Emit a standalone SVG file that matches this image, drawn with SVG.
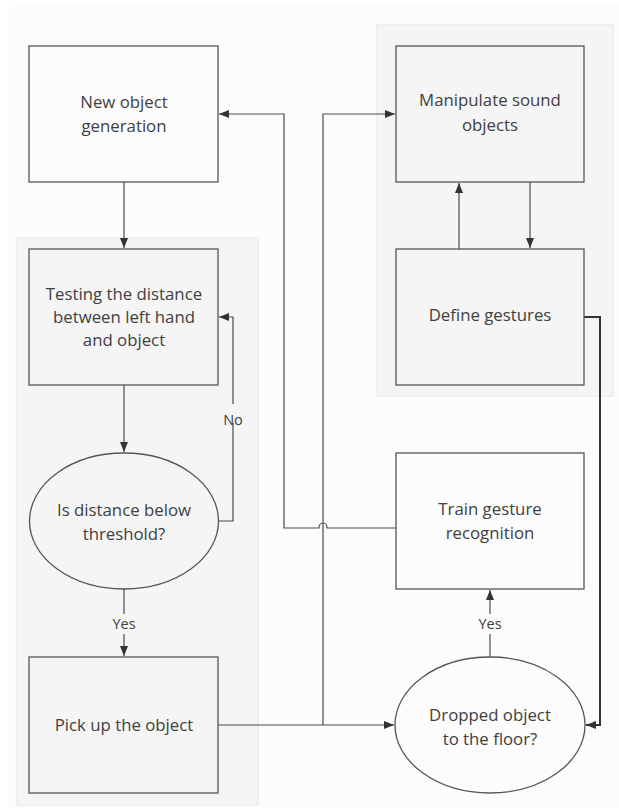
<svg xmlns="http://www.w3.org/2000/svg" width="619" height="808" viewBox="0 0 619 808">
<defs>
<style>
.bg{fill:#fcfcfc;stroke:none}
.panel{fill:#f5f5f5;stroke:#ececec;stroke-width:1.5}
.node{fill:none;stroke:#555;stroke-width:1.3}
.t{font-family:"Open Sans","Liberation Sans",sans-serif;font-size:16.8px;fill:#404040;text-anchor:middle}
.lbl{font-family:"Open Sans","Liberation Sans",sans-serif;font-size:14.5px;fill:#404040;text-anchor:middle}
.c{fill:none;stroke:#4a4a4a;stroke-width:1.2}
.ct{fill:none;stroke:#333;stroke-width:2}
</style>
<marker id="ah" viewBox="0 0 10 8" refX="10" refY="4" markerWidth="10" markerHeight="8" markerUnits="userSpaceOnUse" orient="auto">
<path d="M0,0 L10,4 L0,8 z" fill="#333"/>
</marker>
</defs>
<rect class="bg" x="9" y="6" width="610" height="802"/>
<rect class="panel" x="17" y="238" width="241" height="567"/>
<rect class="panel" x="377" y="25" width="236" height="371"/>

<g id="connectors">
<path class="c" d="M124,182 V248" marker-end="url(#ah)"/>
<path class="c" d="M124,385 V452" marker-end="url(#ah)"/>
<path class="c" d="M218.5,521 H233 V317 H219" marker-end="url(#ah)"/>
<path class="c" d="M124,589 V614"/>
<path class="c" d="M124,634 V656" marker-end="url(#ah)"/>
<path class="c" d="M218,725 H394" marker-end="url(#ah)"/>
<path class="c" d="M323,725 V114 H395" marker-end="url(#ah)"/>
<path class="c" d="M459,249 V183" marker-end="url(#ah)"/>
<path class="c" d="M530,182 V248" marker-end="url(#ah)"/>
<path class="ct" d="M584,317 H600 V725 H586" marker-end="url(#ah)"/>
<path class="c" d="M396,528 H327 A4,5 0 0 0 319,528 H284 V114 H219" marker-end="url(#ah)"/>
<path class="c" d="M490,657 V634"/>
<path class="c" d="M490,614 V590" marker-end="url(#ah)"/>
<rect x="220" y="404" width="26" height="19" fill="#f5f5f5"/>
<text class="lbl" x="233" y="425">No</text>
<text class="lbl" x="124" y="629">Yes</text>
<text class="lbl" x="490" y="629">Yes</text>
</g>

<g id="new-object">
<rect class="node" x="29" y="46" width="189" height="136"/>
<text class="t" x="124" y="108">New object</text>
<text class="t" x="124" y="132">generation</text>
</g>
<g id="testing">
<rect class="node" x="29" y="249" width="189" height="136"/>
<text class="t" x="124" y="300">Testing the distance</text>
<text class="t" x="124" y="323">between left hand</text>
<text class="t" x="124" y="346">and object</text>
</g>
<g id="threshold">
<ellipse class="node" cx="124" cy="521" rx="94.5" ry="68"/>
<text class="t" x="124" y="516">Is distance below</text>
<text class="t" x="124" y="540">threshold?</text>
</g>
<g id="pickup">
<rect class="node" x="29" y="657" width="189" height="136"/>
<text class="t" x="124" y="731">Pick up the object</text>
</g>
<g id="manipulate">
<rect class="node" x="396" y="46" width="188" height="136"/>
<text class="t" x="490" y="106">Manipulate sound</text>
<text class="t" x="490" y="131">objects</text>
</g>
<g id="define">
<rect class="node" x="396" y="249" width="188" height="136"/>
<text class="t" x="490" y="321">Define gestures</text>
</g>
<g id="train">
<rect class="node" x="396" y="453" width="188" height="136"/>
<text class="t" x="490" y="515">Train gesture</text>
<text class="t" x="490" y="539">recognition</text>
</g>
<g id="dropped">
<ellipse class="node" cx="490" cy="725" rx="95" ry="68"/>
<text class="t" x="490" y="721">Dropped object</text>
<text class="t" x="490" y="745">to the floor?</text>
</g>
</svg>
